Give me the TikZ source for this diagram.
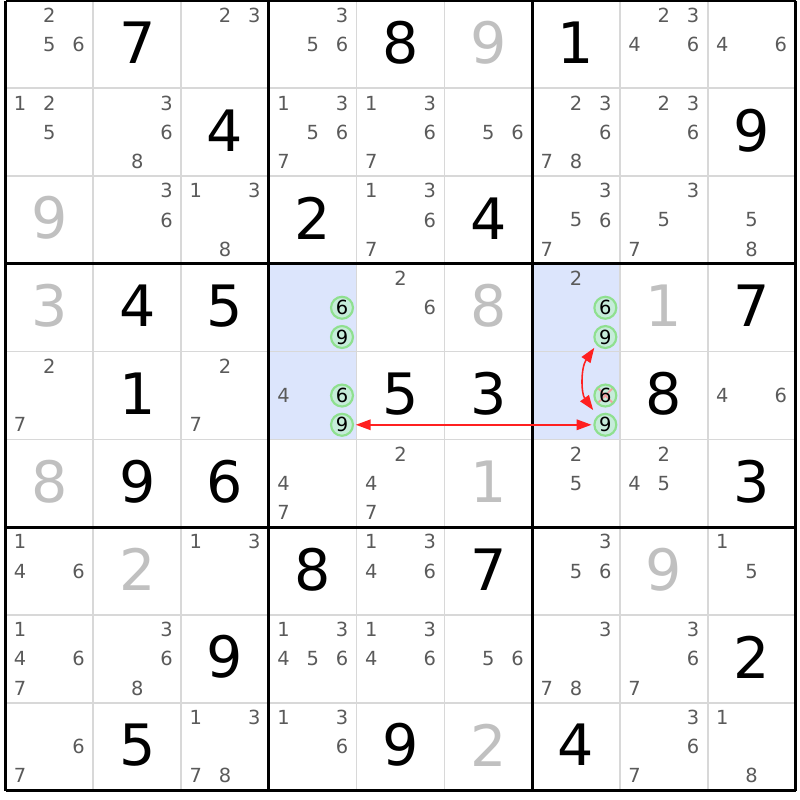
\documentclass[tikz,border=0pt]{standalone}
\usepackage{fontspec}
\setmainfont{DejaVu Sans}
\usetikzlibrary{arrows.meta}

\definecolor{candgray}{HTML}{5A5A5A}
\definecolor{givengray}{HTML}{C0C0C0}
\definecolor{thingray}{HTML}{D8D8D8}
\definecolor{hlblue}{HTML}{DCE5FC}
\definecolor{pickline}{HTML}{8FE08F}
\definecolor{pickfill}{HTML}{C6ECDA}
\definecolor{linkred}{HTML}{FF2020}
\definecolor{crossred}{HTML}{F3A0A0}

\tikzset{
    cand/.style={inner sep=0pt, text=candgray, font=\fontsize{6.3}{6.3}\selectfont},
    pick/.style={cand, circle, draw=pickline, line width=0.7pt, fill=pickfill, minimum size=0.25cm, text=black},
    struck/.style={pick, path picture={
        \draw[crossred, line width=0.6pt] (path picture bounding box.south west) -- (path picture bounding box.north east)
            (path picture bounding box.north west) -- (path picture bounding box.south east);}},
    solved/.style={inner sep=0pt, font=\fontsize{18.5}{18.5}\selectfont},
    given/.style={solved, text=givengray},
    link/.style={linkred, line width=0.5pt, {Triangle[length=4.8pt,width=3.4pt]}-{Triangle[length=4.8pt,width=3.4pt]}}
}

\newcommand{\cands}[4][cand]{%
    \foreach \dg in {#4} {
        \pgfmathtruncatemacro\candcol{mod(\dg-1,3)}
        \pgfmathtruncatemacro\candrow{div(\dg-1,3)}
        \node[#1] (c#2#3-\dg) at ({#3-1+(2*\candcol+1)/6},{-(#2-1)-(2*\candrow+1)/6}) {\dg};
    }}
\newcommand{\cellvalue}[4]{\node[#1] (v#2#3) at ({#3-0.5},{-#2+0.52}) {#4};}

\begin{document}
\begin{tikzpicture}
    \useasboundingbox (-0.063,0.006) rectangle (9.051,-9.108);
    \fill[hlblue] (3,-3) rectangle (4,-5);
    \fill[hlblue] (6,-3) rectangle (7,-5);
    \foreach \i in {1,2,4,5,7,8} {
        \draw[thingray, line width=0.55pt] (\i,0) -- (\i,-9);
        \draw[thingray, line width=0.55pt] (0,-\i) -- (9,-\i);
    }
    \foreach \i in {0,3,6,9} {
        \draw[black, line width=0.95pt] (\i,0) -- (\i,-9);
        \draw[black, line width=0.95pt] (0,-\i) -- (9,-\i);
    }

    \cands{1}{1}{2,5,6}
    \cellvalue{solved}{1}{2}{7}
    \cands{1}{3}{2,3}
    \cands{1}{4}{3,5,6}
    \cellvalue{solved}{1}{5}{8}
    \cellvalue{given}{1}{6}{9}
    \cellvalue{solved}{1}{7}{1}
    \cands{1}{8}{2,3,4,6}
    \cands{1}{9}{4,6}

    \cands{2}{1}{1,2,5}
    \cands{2}{2}{3,6,8}
    \cellvalue{solved}{2}{3}{4}
    \cands{2}{4}{1,3,5,6,7}
    \cands{2}{5}{1,3,6,7}
    \cands{2}{6}{5,6}
    \cands{2}{7}{2,3,6,7,8}
    \cands{2}{8}{2,3,6}
    \cellvalue{solved}{2}{9}{9}

    \cellvalue{given}{3}{1}{9}
    \cands{3}{2}{3,6}
    \cands{3}{3}{1,3,8}
    \cellvalue{solved}{3}{4}{2}
    \cands{3}{5}{1,3,6,7}
    \cellvalue{solved}{3}{6}{4}
    \cands{3}{7}{3,5,6,7}
    \cands{3}{8}{3,5,7}
    \cands{3}{9}{5,8}

    \cellvalue{given}{4}{1}{3}
    \cellvalue{solved}{4}{2}{4}
    \cellvalue{solved}{4}{3}{5}
    \cands[pick]{4}{4}{6,9}
    \cands{4}{5}{2,6}
    \cellvalue{given}{4}{6}{8}
    \cands{4}{7}{2}
    \cands[pick]{4}{7}{6,9}
    \cellvalue{given}{4}{8}{1}
    \cellvalue{solved}{4}{9}{7}

    \cands{5}{1}{2,7}
    \cellvalue{solved}{5}{2}{1}
    \cands{5}{3}{2,7}
    \cands{5}{4}{4}
    \cands[pick]{5}{4}{6,9}
    \cellvalue{solved}{5}{5}{5}
    \cellvalue{solved}{5}{6}{3}
    \cands[struck]{5}{7}{6}
    \cands[pick]{5}{7}{9}
    \cellvalue{solved}{5}{8}{8}
    \cands{5}{9}{4,6}

    \cellvalue{given}{6}{1}{8}
    \cellvalue{solved}{6}{2}{9}
    \cellvalue{solved}{6}{3}{6}
    \cands{6}{4}{4,7}
    \cands{6}{5}{2,4,7}
    \cellvalue{given}{6}{6}{1}
    \cands{6}{7}{2,5}
    \cands{6}{8}{2,4,5}
    \cellvalue{solved}{6}{9}{3}

    \cands{7}{1}{1,4,6}
    \cellvalue{given}{7}{2}{2}
    \cands{7}{3}{1,3}
    \cellvalue{solved}{7}{4}{8}
    \cands{7}{5}{1,3,4,6}
    \cellvalue{solved}{7}{6}{7}
    \cands{7}{7}{3,5,6}
    \cellvalue{given}{7}{8}{9}
    \cands{7}{9}{1,5}

    \cands{8}{1}{1,4,6,7}
    \cands{8}{2}{3,6,8}
    \cellvalue{solved}{8}{3}{9}
    \cands{8}{4}{1,3,4,5,6}
    \cands{8}{5}{1,3,4,6}
    \cands{8}{6}{5,6}
    \cands{8}{7}{3,7,8}
    \cands{8}{8}{3,6,7}
    \cellvalue{solved}{8}{9}{2}

    \cands{9}{1}{6,7}
    \cellvalue{solved}{9}{2}{5}
    \cands{9}{3}{1,3,7,8}
    \cands{9}{4}{1,3,6}
    \cellvalue{solved}{9}{5}{9}
    \cellvalue{given}{9}{6}{2}
    \cellvalue{solved}{9}{7}{4}
    \cands{9}{8}{3,6,7}
    \cands{9}{9}{1,8}

    \draw[link, shorten <=0.02cm, shorten >=0.02cm] (c57-9) -- (c54-9);
    \draw[link, shorten <=0.04cm, shorten >=0.08cm] (c47-9.221) to[bend right=35] (c57-9.132);
\end{tikzpicture}
\end{document}
